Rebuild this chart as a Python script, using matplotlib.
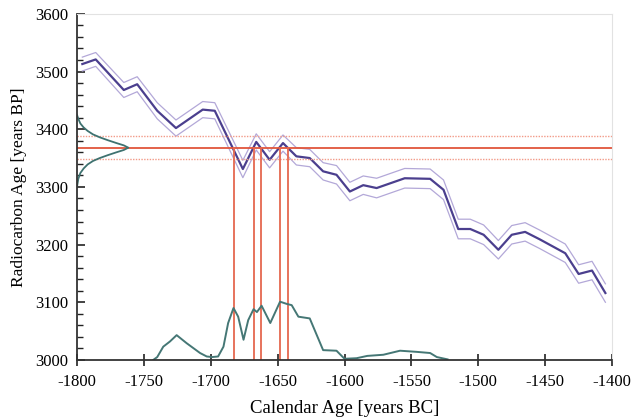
import numpy as np
import matplotlib.pyplot as plt
from matplotlib.ticker import MultipleLocator

# --- calibration curve (calendar year, radiocarbon age, 1-sigma) ---
cal_year = [-1796, -1786, -1765, -1755, -1740, -1726, -1706, -1697, -1676,
            -1666, -1656, -1646, -1636, -1626, -1616, -1606, -1596, -1586,
            -1576, -1555, -1536, -1526, -1515, -1506, -1496, -1485, -1475,
            -1465, -1454, -1435, -1425, -1415, -1405]
c14_age = [3513, 3521, 3468, 3478, 3432, 3402, 3434, 3432, 3331,
           3378, 3347, 3376, 3353, 3350, 3327, 3321, 3292, 3303,
           3298, 3315, 3314, 3295, 3227, 3227, 3217, 3191, 3217,
           3222, 3209, 3185, 3149, 3155, 3116]
c14_err = [12, 12, 13, 13, 14, 14, 14, 14, 15,
           14, 14, 14, 15, 15, 15, 16, 16, 16,
           17, 17, 17, 17, 17, 17, 17, 16, 16,
           16, 16, 16, 16, 16, 16]

# --- measured sample: 3368 +/- 20 BP ---
sample_age = 3368
sample_err = 20

# measured age distribution drawn along the y axis (age, width in years)
meas_age = [3425, 3418, 3410, 3403, 3397, 3391, 3386, 3381, 3376, 3372, 3368,
            3364, 3360, 3355, 3350, 3345, 3339, 3332, 3324, 3314, 3300]
meas_width = [0, 1.0, 2.5, 5, 8, 12, 17, 23, 29.5, 35, 38.4,
              35, 29.5, 23, 17, 12, 8, 5, 2.5, 1.0, 0]

# intercept calendar ages
intercepts = [-1682.4, -1667.7, -1662.2, -1648.2, -1642.2]

# calibrated probability distribution drawn along the x axis
prob_year = [-1743, -1740, -1735.5, -1730.5, -1725.5, -1718, -1708, -1703,
             -1699, -1694.5, -1690.5, -1687, -1683, -1679.5, -1675.5,
             -1672, -1668, -1665.5, -1662, -1655.5, -1648.2, -1643,
             -1639.5, -1634.5, -1626, -1616, -1606, -1600, -1591, -1583,
             -1571, -1558.5, -1546, -1536, -1531, -1523]
prob_val = [0, 5, 23, 32, 43, 29, 12, 6,
            5, 6, 23, 64, 90, 75, 35,
            69, 88, 83, 94, 64, 101, 97,
            95, 75, 72, 17, 16, 2, 3, 7,
            9, 16, 14, 12, 5, 1]

plt.rcParams['font.family'] = ['Liberation Serif', 'DejaVu Serif']
plt.rcParams['axes.unicode_minus'] = False

fig = plt.figure(figsize=(6.31, 4.2), dpi=100)
ax = fig.add_axes([0.122, 0.143, 0.848, 0.824])

yr = np.array(cal_year)
age = np.array(c14_age)
err = np.array(c14_err)

band_col = '#b3a8d8'
ax.plot(yr, age + err, color=band_col, lw=0.9)
ax.plot(yr, age - err, color=band_col, lw=0.9)
ax.plot(yr, age, color='#4b3f8e', lw=1.6)

# horizontal sample lines
ax.axhline(sample_age, color='#e0553c', lw=1.3)
ax.axhline(sample_age + sample_err, color='#f29a88', lw=1.0, ls=(0, (1, 1)))
ax.axhline(sample_age - sample_err, color='#f29a88', lw=1.0, ls=(0, (1, 1)))

# vertical intercept lines
for x in intercepts:
    ax.plot([x, x], [3000, sample_age], color='#e5684f', lw=1.3)

# distributions
ax.plot(-1800 + np.array(meas_width), meas_age, color='#3e7270', lw=1.3)
ax.plot(prob_year, 3000 + np.array(prob_val), color='#457775', lw=1.4)

ax.set_xlim(-1800, -1400)
ax.set_ylim(3000, 3600)

ax.xaxis.set_major_locator(MultipleLocator(50))
ax.yaxis.set_major_locator(MultipleLocator(100))
ax.yaxis.set_minor_locator(MultipleLocator(20))
ax.tick_params(axis='x', direction='inout', length=8, width=1.2,
               color='#222222', labelsize=12, pad=6)
ax.tick_params(axis='y', which='major', direction='in', length=6, width=1.2,
               color='#222222', labelsize=12, pad=6)
ax.tick_params(axis='y', which='minor', direction='in', length=4, width=1.0,
               color='#222222')

for s in ['left', 'bottom']:
    ax.spines[s].set_color('#333333')
    ax.spines[s].set_linewidth(1.3)
for s in ['top', 'right']:
    ax.spines[s].set_color('#e2e2e2')
    ax.spines[s].set_linewidth(0.8)

ax.set_xlabel('Calendar Age [years BC]', fontsize=13.5, labelpad=7)
ax.set_ylabel('Radiocarbon Age [years BP]', fontsize=12.5, labelpad=6)

fig.savefig('out.png', dpi=100)
